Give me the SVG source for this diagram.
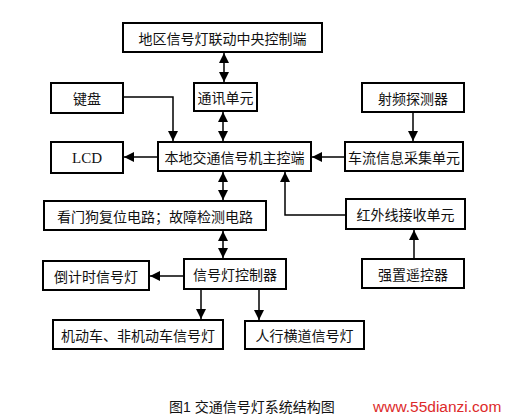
<svg xmlns="http://www.w3.org/2000/svg" width="508" height="420" viewBox="0 0 508 420">
<style>
.box{fill:#fff;stroke:#000;stroke-width:2}
.t{font-family:"Noto Sans CJK SC","Liberation Sans",sans-serif;font-size:14px;fill:#111;text-anchor:middle;dominant-baseline:central}
.lcd{font-family:"Liberation Serif",serif;font-size:15px;fill:#111;text-anchor:middle;dominant-baseline:central}
.c{fill:none;stroke:#000;stroke-width:1.5}
</style>
<defs>
<marker id="ah" viewBox="0 0 10 10" refX="10" refY="5" markerWidth="10" markerHeight="10" markerUnits="userSpaceOnUse" orient="auto-start-reverse">
<path d="M0,0 L10,5 L0,10 z" fill="#000"/>
</marker>
</defs>
<rect width="508" height="420" fill="#fff"/>
<g id="connectors">
<path class="c" d="M224,53 V82" marker-start="url(#ah)" marker-end="url(#ah)"/>
<path class="c" d="M223,112 V141" marker-start="url(#ah)" marker-end="url(#ah)"/>
<path class="c" d="M123,97 H173 V141" marker-end="url(#ah)"/>
<path class="c" d="M158,157 H124" marker-end="url(#ah)"/>
<path class="c" d="M413,112 V141" marker-end="url(#ah)"/>
<path class="c" d="M345,157 H312" marker-end="url(#ah)"/>
<path class="c" d="M346,215 H285 V172" marker-end="url(#ah)"/>
<path class="c" d="M223,172 V200" marker-start="url(#ah)" marker-end="url(#ah)"/>
<path class="c" d="M223,231 V258" marker-start="url(#ah)" marker-end="url(#ah)"/>
<path class="c" d="M184,276 H150" marker-end="url(#ah)"/>
<path class="c" d="M201,289 V319" marker-end="url(#ah)"/>
<path class="c" d="M259,289 V320" marker-end="url(#ah)"/>
<path class="c" d="M414,259 V230" marker-end="url(#ah)"/>
</g>
<g id="central"><rect class="box" x="123" y="23" width="199" height="29"/><text class="t" x="222.5" y="37.5">地区信号灯联动中央控制端</text></g>
<g id="comm"><rect class="box" x="194" y="83" width="63" height="28"/><text class="t" x="225.5" y="97">通讯单元</text></g>
<g id="keyboard"><rect class="box" x="51" y="83" width="72" height="30"/><text class="t" x="87" y="98">键盘</text></g>
<g id="lcd"><rect class="box" x="51" y="142" width="72" height="31"/><text class="lcd" x="87" y="157.5">LCD</text></g>
<g id="main"><rect class="box" x="158" y="142" width="153" height="29"/><text class="t" x="234.5" y="156.5">本地交通信号机主控端</text></g>
<g id="rf"><rect class="box" x="362" y="83" width="102" height="29"/><text class="t" x="413" y="97.5">射频探测器</text></g>
<g id="flow"><rect class="box" x="345" y="142" width="118" height="29"/><text class="t" x="404" y="156.5">车流信息采集单元</text></g>
<g id="watchdog"><rect class="box" x="44" y="201" width="222" height="29"/><text class="t" x="155" y="215.5">看门狗复位电路；故障检测电路</text></g>
<g id="ir"><rect class="box" x="346" y="199" width="119" height="30"/><text class="t" x="405.5" y="214">红外线接收单元</text></g>
<g id="remote"><rect class="box" x="362" y="259" width="102" height="29"/><text class="t" x="413" y="273.5">强置遥控器</text></g>
<g id="controller"><rect class="box" x="184" y="259" width="102" height="30"/><text class="t" x="235" y="274">信号灯控制器</text></g>
<g id="countdown"><rect class="box" x="43" y="261" width="106" height="29"/><text class="t" x="96" y="275.5">倒计时信号灯</text></g>
<g id="vehicle"><rect class="box" x="53" y="320" width="170" height="29"/><text class="t" x="138" y="334.5">机动车、非机动车信号灯</text></g>
<g id="pedestrian"><rect class="box" x="245" y="321" width="119" height="28"/><text class="t" x="304.5" y="335">人行横道信号灯</text></g>
<text x="169" y="412" font-family="Liberation Sans,'Noto Sans CJK SC',sans-serif" font-size="14" fill="#111">图1 交通信号灯系统结构图</text>
<text x="373" y="412" font-family="Liberation Sans,sans-serif" font-size="15.5" fill="#dd2a2a">www.55dianzi.com</text>
</svg>
